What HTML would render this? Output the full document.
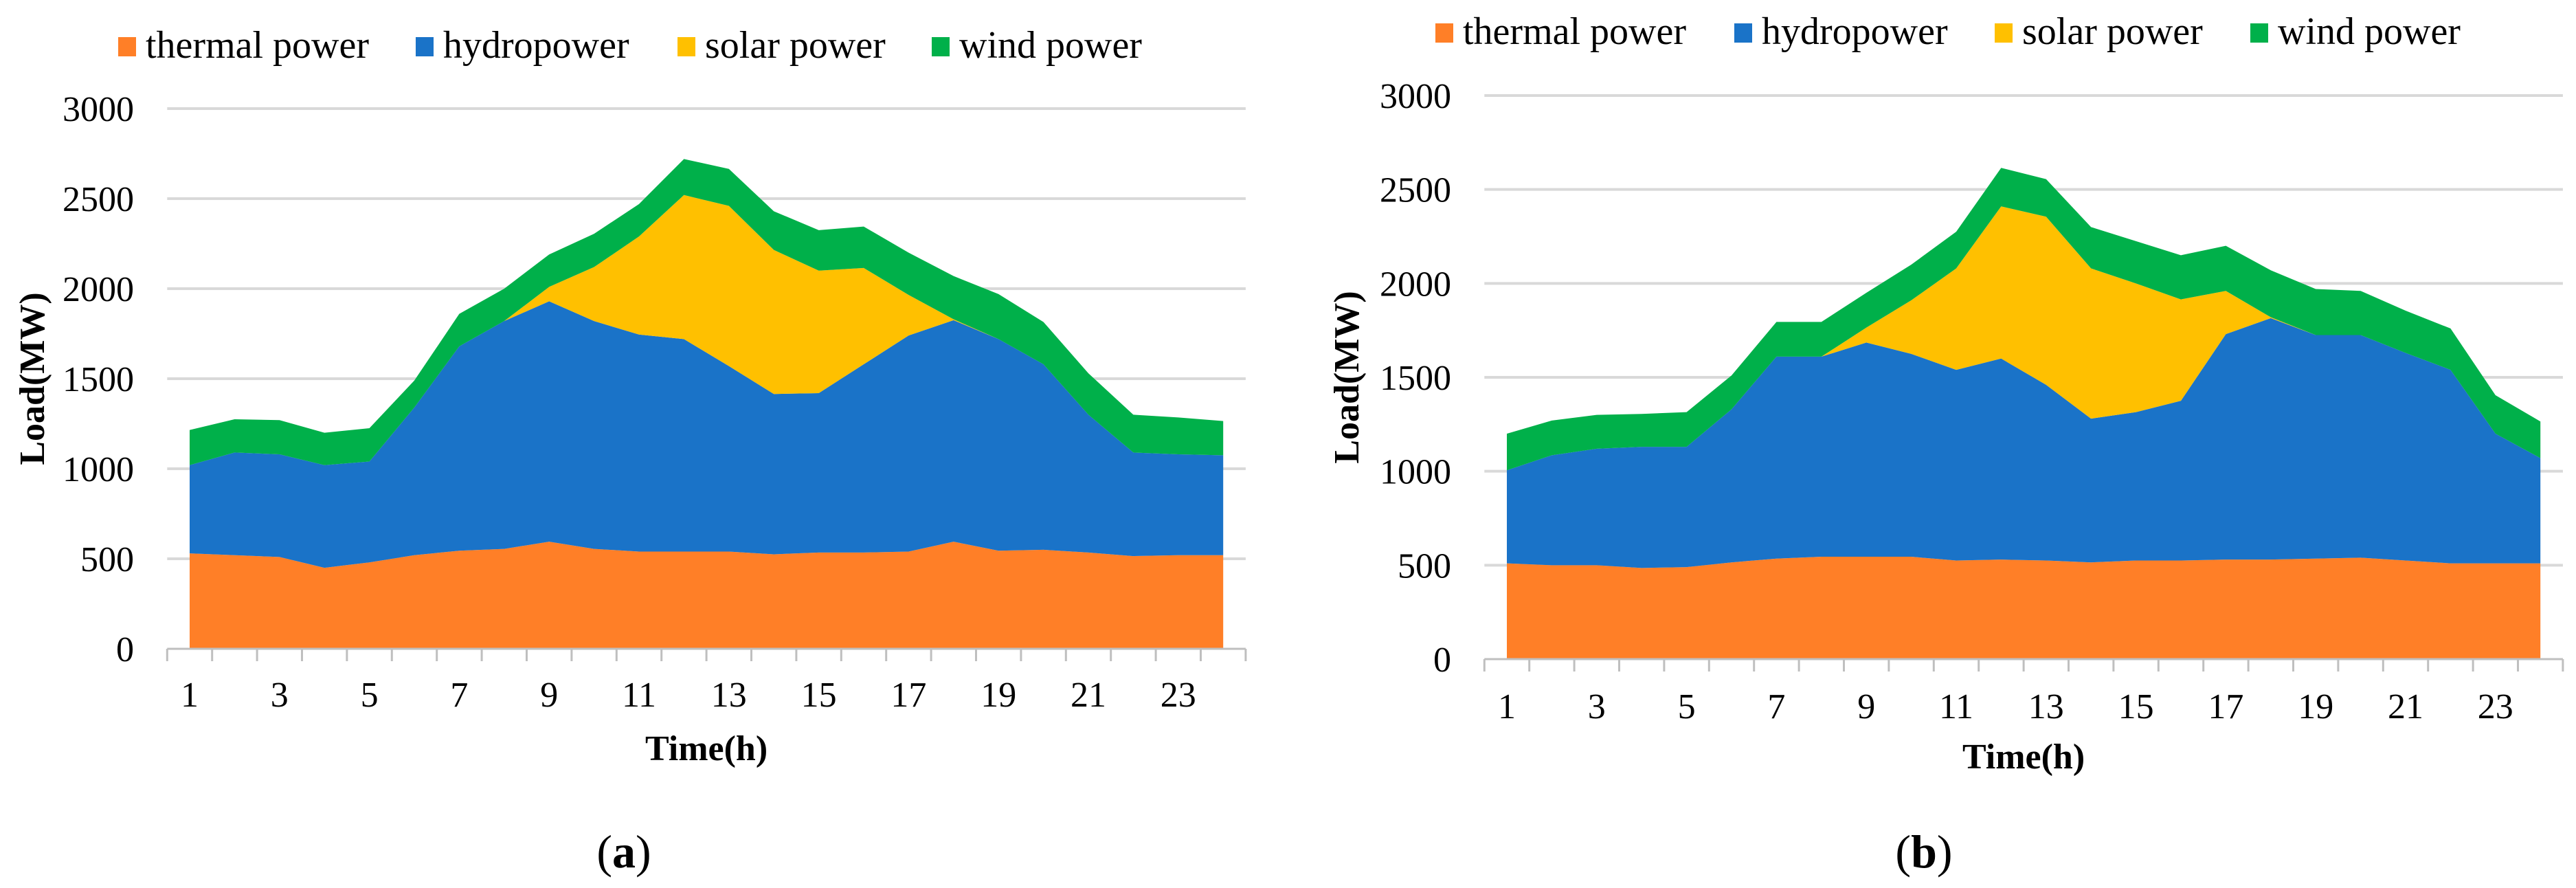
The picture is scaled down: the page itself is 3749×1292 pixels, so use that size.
<!DOCTYPE html>
<html><head><meta charset="utf-8">
<style>
html,body{margin:0;padding:0;background:#fff;}
svg{display:block;font-family:"Liberation Serif",serif;}
</style></head>
<body>
<svg id="root" width="3749" height="1292" viewBox="0 0 3749 1292" xmlns="http://www.w3.org/2000/svg"></svg>
<script>
const hours = [1,2,3,4,5,6,7,8,9,10,11,12,13,14,15,16,17,18,19,20,21,22,23,24];
const yTicks = [0,500,1000,1500,2000,2500,3000];
const seriesNames = ["thermal power","hydropower","solar power","wind power"];
const seriesColors = ["#FF7F27","#1A73C8","#FFC000","#00B04A"];

const aThermal = [530,520,510,450,480,520,545,555,595,555,540,540,540,525,535,535,540,595,545,550,535,515,520,520];
const aHydro   = [490,570,570,570,560,820,1135,1265,1335,1265,1205,1180,1030,890,885,1045,1200,1230,1175,1030,765,575,560,555];
const aSolar   = [0,0,0,0,0,0,0,0,80,300,545,800,890,800,680,535,225,5,0,0,0,0,0,0];
const aWind    = [195,185,190,180,185,150,180,180,180,185,180,200,205,215,225,230,235,240,250,235,230,210,205,190];

const bThermal = [510,500,500,485,490,515,535,545,545,545,525,530,525,515,525,525,530,530,535,540,525,510,510,510];
const bHydro   = [495,585,620,645,640,815,1075,1065,1140,1080,1015,1070,935,765,790,850,1200,1285,1190,1185,1105,1030,690,560];
const bSolar   = [0,0,0,0,0,0,0,0,80,285,540,810,895,800,685,540,230,5,0,0,0,0,0,0];
const bWind    = [195,185,180,175,185,180,185,185,185,190,195,205,200,220,225,235,240,250,245,235,225,220,205,195];

const NS = "http://www.w3.org/2000/svg";
const root = document.getElementById('root');
function mk(tag, attrs, parent){
  const e = document.createElementNS(NS, tag);
  for (const k in attrs) e.setAttribute(k, attrs[k]);
  (parent||root).appendChild(e);
  return e;
}

function drawChart(cfg){
  const g = mk('g', {});
  
  
  const x0 = cfg.p1 - cfg.step/2, x1 = cfg.p1 + cfg.step*(hours.length-1) + cfg.step/2;
  const xs = i => cfg.p1 + cfg.step*i;
  const ys = v => cfg.y0 - (v/3000)*(cfg.y0 - cfg.y3000);
  yTicks.forEach(t => {
    if (t>0){
      const l = mk('line',{x1:x0,x2:x1,y1:ys(t),y2:ys(t),stroke:'#D9D9D9','stroke-width':4},g);
      
      
    }
    const tx = mk('text',{x:cfg.ytx,y:ys(t)+18,'text-anchor':'end','font-size':52,fill:'#000'},g);
    tx.textContent = t;
    
    
  });
  const data = cfg.series;
  let base = hours.map(()=>0);
  data.forEach((s, si) => {
    const top = base.map((b,i)=>b + s[i]);
    let d = '';
    top.forEach((v,i)=>{ d += (i? 'L':'M') + xs(i) + ',' + ys(v) + ' '; });
    for (let i = hours.length-1; i>=0; i--) d += 'L' + xs(i) + ',' + ys(base[i]) + ' ';
    d += 'Z';
    const p = mk('path',{d:d, fill:seriesColors[si]},g);
    
    
    base = top;
  });
  const ax = mk('line',{x1:x0,x2:x1,y1:cfg.y0,y2:cfg.y0,stroke:'#BFBFBF','stroke-width':3},g);
  
  
  for (let i=0;i<=hours.length;i++){
    const tx = x0 + cfg.step*i;
    const tk = mk('line',{x1:tx,x2:tx,y1:cfg.y0,y2:cfg.y0+18,stroke:'#BFBFBF','stroke-width':3},g);
    
    
  }
  hours.forEach((h,i)=>{
    if (h%2===1){
      const t = mk('text',{x:xs(i),y:cfg.xly,'text-anchor':'middle','font-size':52,fill:'#000'},g);
      t.textContent = h;
      
      
    }
  });
  const xt = mk('text',{x:(x0+x1)/2,y:cfg.xty,'text-anchor':'middle','font-size':52,'font-weight':'bold',fill:'#000'},g);
  xt.textContent = 'Time(h)';
  
  
  const ymid = (cfg.y0+cfg.y3000)/2;
  const yt = mk('text',{x:0,y:0,transform:'translate('+cfg.ylx+','+ymid+') rotate(-90)','text-anchor':'middle','font-size':52,'font-weight':'bold',fill:'#000'},g);
  yt.textContent = 'Load(MW)';
  
  
  seriesNames.forEach((n,i)=>{
    const sq = mk('rect',{x:cfg.legX[i],y:cfg.legY-30,width:26,height:28,fill:seriesColors[i]},g);
    
    
    const t = mk('text',{x:cfg.legX[i]+40,y:cfg.legY,'font-size':56,fill:'#000'},g);
    t.textContent = n;
    
    
  });
  const cap = mk('text',{x:cfg.capX,y:1262,'text-anchor':'middle','font-size':68,fill:'#000'},g);
  
  
  const c1 = mk('tspan',{},cap); c1.textContent = '(';
  const c2 = mk('tspan',{'font-weight':'bold'},cap); c2.textContent = cfg.id;
  const c3 = mk('tspan',{},cap); c3.textContent = ')';
}

drawChart({id:'a', p1:276, step:65.4, y0:944, y3000:158, ytx:195, xly:1028, xty:1106, ylx:64,
  legX:[172,605,986,1356], legY:84, capX:908,
  series:[aThermal,aHydro,aSolar,aWind]});
drawChart({id:'b', p1:2193, step:65.4, y0:959, y3000:139, ytx:2112, xly:1045, xty:1118, ylx:1977,
  legX:[2089,2524,2903,3275], legY:64, capX:2800,
  series:[bThermal,bHydro,bSolar,bWind]});
</script>
</body></html>
